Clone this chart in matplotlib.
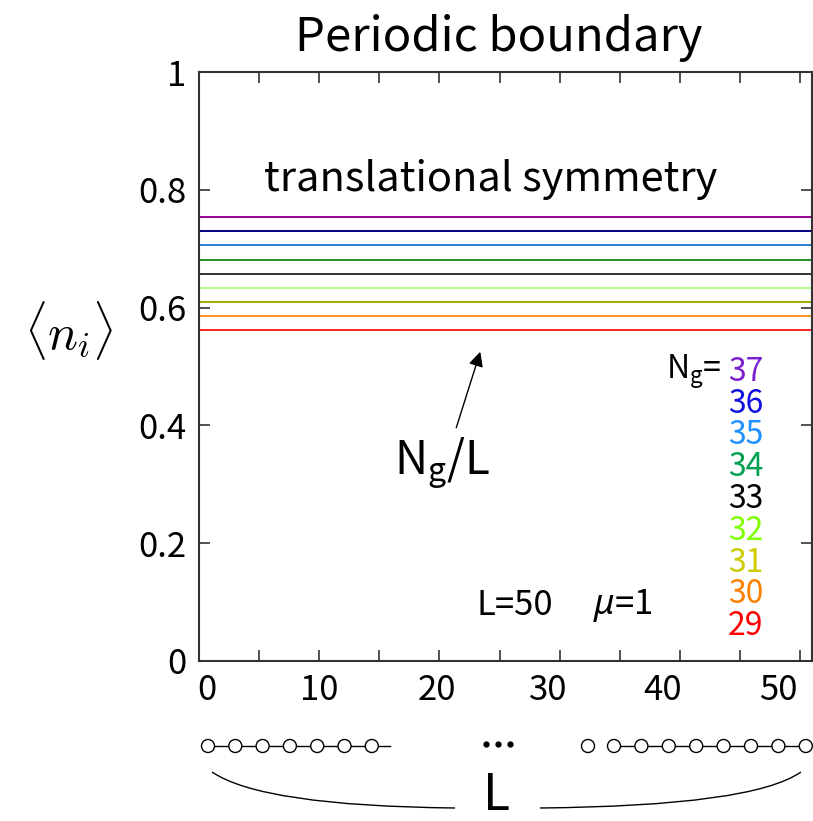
import matplotlib
matplotlib.use("Agg")
import matplotlib.pyplot as plt
from matplotlib.patches import Circle, PathPatch
from matplotlib.path import Path
from matplotlib.transforms import ScaledTranslation

plt.rcParams["font.family"] = ["Noto Sans CJK JP", "DejaVu Sans"]
plt.rcParams["mathtext.fontset"] = "custom"
plt.rcParams["mathtext.rm"] = "Noto Sans CJK JP"
plt.rcParams["mathtext.it"] = "Noto Sans:italic"

# site densities <n_i> for each particle number N_g (L = 50, mu = 1)
n_g = [37, 36, 35, 34, 33, 32, 31, 30, 29]
density = [0.754, 0.730, 0.706, 0.681, 0.657, 0.633, 0.610, 0.586, 0.562]
line_colors = ["#990099", "#000080", "#2a80d0", "#209020", "#333333",
               "#b8ff80", "#a8a800", "#ff9020", "#ff2020"]
label_colors = ["#7b1fd0", "#1010e0", "#1e90ff", "#00a050", "#000000",
                "#80ff00", "#cccc00", "#ff8000", "#ff0000"]
x_ticks = [0, 10, 20, 30, 40, 50]
y_ticks = [0, 0.2, 0.4, 0.6, 0.8, 1]
y_tick_labels = ["0", "0.2", "0.4", "0.6", "0.8", "1"]

fig = plt.figure(figsize=(8.13, 8.21), dpi=100)
ax = fig.add_axes([0.2448, 0.1949, 0.754, 0.7174])

for y, c in zip(density, line_colors):
    ax.axhline(y, color=c, lw=1.4)

ax.set_xlim(0, 51)
ax.set_ylim(0, 1)
ax.set_xticks(x_ticks)
ax.set_xticks(range(0, 51, 5), minor=True)
ax.set_yticks(y_ticks)
ax.set_yticklabels(y_tick_labels)
ax.tick_params(direction="in", length=8, width=1.2, color="#333333",
               top=True, right=True, labelsize=25, pad=9)
ax.tick_params(which="minor", direction="in", length=8, width=1.2,
               color="#333333", top=True)
for s in ax.spines.values():
    s.set_linewidth(1.5)
    s.set_color("#333333")

# the x labels sit slightly left of their ticks, drifting toward the right edge
label_shift_px = [8, 0, -3, -11, -17, -22]
for lab, dx in zip(ax.get_xticklabels(), label_shift_px):
    lab.set_transform(lab.get_transform() + ScaledTranslation(dx / 100, 0, fig.dpi_scale_trans))

fig.text(0.614, 0.954, "Periodic boundary", ha="center", va="center", fontsize=34)
fig.text(0.084, 0.598, r"$\langle n_i \rangle$", ha="center", va="center",
         fontsize=36, math_fontfamily="cm")

ax.text(24.3, 0.817, "translational symmetry", ha="center", va="center", fontsize=30)
ax.text(20.2, 0.336, r"N$_\mathregular{g}$/L", ha="center", va="center", fontsize=33)
ax.annotate("", xy=(23.4, 0.525), xytext=(21.4, 0.396),
            arrowprops=dict(arrowstyle="-|>", color="black", lw=1,
                            mutation_scale=22, shrinkA=0, shrinkB=0))
ax.text(23.1, 0.095, "L=50", ha="left", va="center", fontsize=25)
ax.text(32.8, 0.095, r"$\mu$=1", ha="left", va="center", fontsize=25)

# N_g legend column
ax.text(43.5, 0.491, r"N$_\mathregular{g}$=", ha="right", va="center", fontsize=23)
for i, (n, c) in enumerate(zip(n_g, label_colors)):
    ax.text(44.0, 0.491 - 0.054 * i, str(n), ha="left", va="center",
            fontsize=23, color=c)

# lattice sketch below the axes, drawn in pixel units
ov = fig.add_axes([0, 0, 1, 1])
ov.set_xlim(0, 813)
ov.set_ylim(821, 0)
ov.axis("off")
ov.patch.set_visible(False)

row_y = 746
left_sites = [208 + 27.3 * k for k in range(7)]
right_sites = [614 + 27.4 * k for k in range(8)]
ov.plot([left_sites[0], 390], [row_y, row_y], color="black", lw=1, zorder=1)
ov.plot([right_sites[0], right_sites[-1]], [row_y, row_y], color="black", lw=1, zorder=1)
for x in left_sites + [588] + right_sites:
    ov.add_patch(Circle((x, row_y), 6.5, fc="white", ec="black", lw=1, zorder=2))
ov.plot([486, 498, 510], [744, 744, 744], "o", color="black", ms=3.5)

for verts in ([(212, 772), (262, 806), (455, 808)],
              [(540, 808), (752, 806), (801, 772)]):
    ov.add_patch(PathPatch(Path(verts, [Path.MOVETO, Path.CURVE3, Path.CURVE3]),
                           fc="none", ec="black", lw=1))
ov.text(497, 796, "L", ha="center", va="center", fontsize=36)

fig.savefig("out.png", dpi=100)
